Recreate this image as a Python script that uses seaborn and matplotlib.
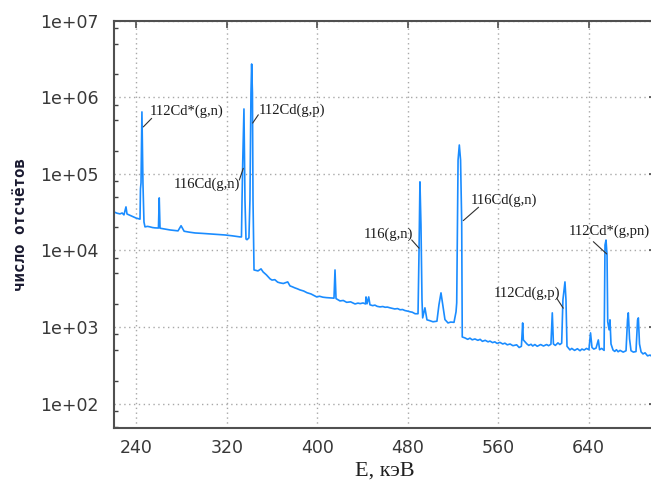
import numpy as np
import pandas as pd
import matplotlib
matplotlib.use("Agg")
import matplotlib.pyplot as plt
import seaborn as sns
from matplotlib.ticker import LogLocator, NullFormatter, FixedLocator

# spectrum (energy in keV, counts)
energy_kev = [
    220.3, 223.0, 225.6, 227.5, 229.1, 230.9, 231.8, 234.0, 236.2, 238.0, 239.7, 242.4, 243.3,
    243.7, 244.2, 245.0, 245.9, 246.8, 247.7,
    250.0, 252.1, 254.3, 256.5, 259.6, 260.3, 261.0, 263.6, 266.5, 269.8, 273.0, 276.9, 279.6,
    282.3, 287.0, 292.0, 298.0, 305.3, 311.0, 318.6, 325.0, 331.8,
    333.0, 333.5, 334.1, 335.2, 336.1, 337.0, 337.9, 339.6, 340.5, 341.4, 342.0, 342.7, 343.2, 344.1,
    347.6, 350.3, 352.1, 355.0, 358.3, 360.0, 362.5, 365.0, 367.1, 370.0, 373.9, 375.9, 378.0,
    380.0, 382.5, 384.7, 388.0, 391.0, 394.5, 399.5, 402.0, 405.0, 408.0, 411.3, 414.8, 415.7,
    416.6, 420.1, 423.0, 426.0, 429.5, 433.4, 436.0, 438.0, 440.5, 442.7, 443.1, 444.0, 445.5,
    446.6, 449.0, 451.0, 453.0, 455.5, 458.0, 460.0, 462.0, 464.3, 466.5, 468.5, 471.0, 473.2,
    475.5, 477.5, 480.0, 482.0, 484.0, 486.5, 489.1,
    490.0, 490.8, 491.7, 492.6, 493.2, 495.2, 497.0, 499.5, 502.3, 505.8, 507.6, 509.4, 511.1, 512.9,
    515.6, 518.0, 520.9, 522.7, 523.3, 524.5, 525.6, 526.7, 527.7, 528.2, 530.6,
    533.0, 535.0, 537.0, 539.4, 542.0, 544.0, 546.0, 548.5, 551.0, 552.7, 555.0, 557.0, 559.0,
    561.5, 564.0, 565.9, 568.0, 570.5, 573.0, 576.3, 578.5, 580.5, 581.6, 582.2,
    585.4, 587.0, 589.0, 590.5, 592.4, 594.5, 597.5, 600.0, 602.8, 604.5, 606.6, 607.8, 608.8,
    610.5, 612.8, 614.5, 616.1, 617.2, 619.0, 619.9,
    620.8, 623.4, 625.0, 627.5, 630.0, 632.3, 634.0, 636.0, 638.0, 640.2, 641.6, 642.9, 644.5,
    646.5, 648.5, 649.6, 651.5, 653.6, 654.4,
    655.3, 656.2, 656.8, 658.0, 658.8, 659.7, 661.5, 663.0, 664.5, 666.0, 667.7, 670.5, 673.0,
    674.3, 675.0, 676.1, 677.4, 679.5, 681.8, 683.2, 683.9, 684.9, 686.3, 688.0, 689.8, 692.0,
    694.3, 697.0, 699.5,
]
counts = [
    31800, 30600, 30000, 30800, 29100, 37000, 29900, 28900, 28000, 27200, 26500, 25800, 25600,
    63500, 76200, 643000, 76000, 23500, 20300,
    20600, 20300, 19900, 19700, 19600, 48500, 19500, 19200, 18900, 18500, 18300, 18000, 21000,
    17800, 17300, 16900, 16700, 16400, 16200, 15900, 15500, 15000,
    15000, 45600, 138700, 703000, 45600, 14100, 13800, 14600, 45600, 1140000, 2720000, 1140000, 45600, 5560,
    5400, 5740, 5240, 4800, 4250, 4100, 4150, 3850, 3770, 3700, 3880, 3440, 3350,
    3250, 3150, 3050, 2950, 2800, 2700, 2470, 2520, 2450, 2420, 2400, 2380, 5560,
    2350, 2190, 2220, 2100, 2130, 2000, 2050, 2020, 2060, 2000, 2470, 2010, 2470,
    1950, 1900, 1930, 1860, 1830, 1850, 1810, 1820, 1780, 1750, 1720, 1740, 1680,
    1690, 1640, 1610, 1580, 1560, 1490, 1490,
    10200, 78500, 21600, 2260, 1315, 1780, 1240, 1210, 1170, 1190, 1950, 2790, 1890, 1250,
    1130, 1160, 1150, 1580, 2070, 151800, 238000, 151800, 23600, 741, 720,
    690, 715, 680, 698, 670, 690, 650, 670, 640, 655, 625, 640, 610,
    630, 600, 615, 585, 600, 570, 585, 540, 560, 1130, 678,
    600, 575, 595, 565, 590, 560, 590, 565, 590, 570, 595, 1530, 600,
    575, 620, 590, 615, 2260, 3880, 2260,
    560, 502, 525, 495, 520, 490, 515, 500, 525, 505, 838, 540, 515,
    530, 678, 505, 525, 495, 11750,
    13650, 8700, 1170, 919, 1240, 600, 500, 480, 505, 475, 495, 470, 490,
    1240, 1530, 700, 490, 470, 478, 1240, 1315, 600, 473, 445, 460, 420,
    430, 400, 410,
]
assert len(energy_kev) == len(counts)

x_ticks = [240, 320, 400, 480, 560, 640]
y_ticks = [1e2, 1e3, 1e4, 1e5, 1e6, 1e7]
y_tick_labels = ["1e+02", "1e+03", "1e+04", "1e+05", "1e+06", "1e+07"]

# peak labels: text, text position, leader line start / end
peak_labels = ["112Cd*(g,n)", "112Cd(g,p)", "116Cd(g,n)", "116(g,n)",
               "116Cd(g,n)", "112Cd(g,p)", "112Cd*(g,pn)"]
label_x = [252.2, 347.9, 331.7, 484.4, 535.7, 555.7, 622.0]
label_y = [6.5e5, 6.8e5, 7.4e4, 1.63e4, 4.56e4, 2760, 1.76e4]
label_ha = ["left", "left", "right", "right", "left", "left", "left"]
line_x0 = [246.2, 342.9, 331.1, 483.5, 542.6, 611.7, 644.1]
line_y0 = [4.1e5, 4.6e5, 8.3e4, 1.37e4, 3.66e4, 2380, 1.3e4]
line_x1 = [253.6, 347.9, 334.6, 490.0, 529.1, 617.5, 655.9]
line_y1 = [5.3e5, 5.9e5, 1.18e5, 1.07e4, 2.45e4, 1760, 9000]

df = pd.DataFrame({"E": energy_kev, "counts": counts})

sns.set_style("white")
plt.rcParams["font.family"] = ["DejaVu Sans"]

fig = plt.figure(figsize=(6.51, 4.83), dpi=100)
ax = fig.add_axes([0.1751, 0.1139, 0.8326, 0.8433])

sns.lineplot(data=df, x="E", y="counts", ax=ax, estimator=None, sort=False,
             color="#1a8cff", linewidth=1.2)

ax.set_yscale("log")
ax.set_xlim(220.3, 699.5)
ax.set_ylim(48, 1e7)

ax.xaxis.set_major_locator(FixedLocator(x_ticks))
ax.set_xticklabels([str(t) for t in x_ticks])
ax.yaxis.set_major_locator(FixedLocator(y_ticks))
ax.set_yticklabels(y_tick_labels)
ax.yaxis.set_minor_locator(LogLocator(base=10, subs=(2, 5, 8)))
ax.yaxis.set_minor_formatter(NullFormatter())

ax.tick_params(axis="both", which="major", direction="in", length=5, width=1.1,
               color="#404040", labelsize=12.5, labelcolor="#383838",
               top=True, right=True)
ax.tick_params(axis="y", which="minor", direction="in", length=3, width=1.0,
               color="#404040", right=True, left=True)
ax.tick_params(axis="y", which="major", pad=11)
ax.tick_params(axis="x", which="major", pad=8)

for s in ax.spines.values():
    s.set_color("#505050")
    s.set_linewidth(1.5)

ax.grid(True, which="major", linestyle=(0, (1, 2.5)), color="#a8a8a8", linewidth=1.0)

ax.set_xlabel("E, кэВ", family=["Liberation Serif"], fontsize=16, color="#202020", labelpad=3)
ax.set_ylabel("число отсчётов", family=["DejaVu Sans Mono"], fontweight="bold",
              fontsize=11.4, color="#1a1a30", labelpad=9)

for i, txt in enumerate(peak_labels):
    ax.plot([line_x0[i], line_x1[i]], [line_y0[i], line_y1[i]], color="#303030", linewidth=0.8)
    ax.text(label_x[i], label_y[i], txt, ha=label_ha[i], va="center",
            family=["Liberation Serif"], fontsize=10.5, color="#1a1a1a")

fig.savefig("out.png", dpi=100)
